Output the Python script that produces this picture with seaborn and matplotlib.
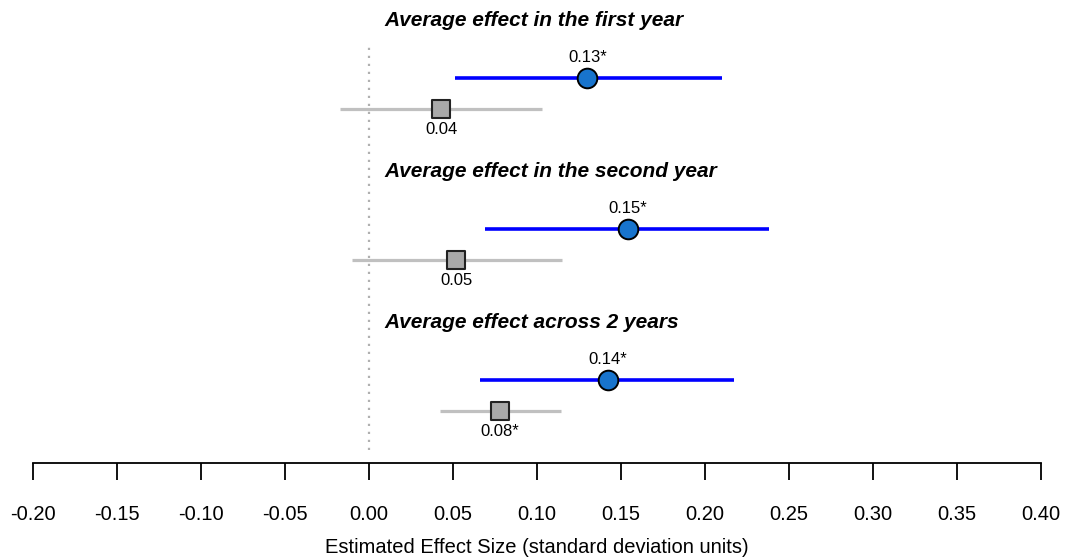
import matplotlib
matplotlib.use("Agg")
import matplotlib.pyplot as plt
import seaborn as sns
import pandas as pd
import numpy as np

# %%
# data
groups = ["Average effect in the first year",
          "Average effect in the second year",
          "Average effect across 2 years"]
blue_est = [0.130, 0.154, 0.142]
blue_lo = [0.051, 0.069, 0.066]
blue_hi = [0.210, 0.238, 0.217]
blue_lab = ["0.13*", "0.15*", "0.14*"]
gray_est = [0.043, 0.052, 0.078]
gray_lo = [-0.017, -0.010, 0.042]
gray_hi = [0.103, 0.115, 0.114]
gray_lab = ["0.04", "0.05", "0.08*"]
xticks = [-0.20, -0.15, -0.10, -0.05, 0.00, 0.05, 0.10, 0.15, 0.20, 0.25, 0.30, 0.35, 0.40]

# %%
sns.set_theme(style="white")
plt.rcParams['font.family'] = ['Liberation Sans', 'DejaVu Sans']
plt.rcParams['text.color'] = 'black'
plt.rcParams['axes.labelcolor'] = 'black'
plt.rcParams['xtick.color'] = 'black'

n = len(groups)
pos = np.arange(n)
blue_df = pd.DataFrame({"est": blue_est, "y": pos + 0.40})
gray_df = pd.DataFrame({"est": gray_est, "y": pos + 0.60})

fig = plt.figure(figsize=(10.65, 5.58), dpi=100)
ax = fig.add_axes([0.031, 0.1703, 0.9465, 0.8297])

# zero reference line
ax.axvline(0, ymin=0.028, ymax=0.90, color="#b0b0b0", linestyle=(0, (1.0, 2.6)), lw=1.6, zorder=1)

# confidence intervals
ax.hlines(blue_df["y"], blue_lo, blue_hi, color="#0000ff", lw=2.6, zorder=2)
ax.hlines(gray_df["y"], gray_lo, gray_hi, color="#c0c0c0", lw=2.3, zorder=2)

# point estimates
sns.scatterplot(data=blue_df, x="est", y="y", marker="o", s=200, color="#1874cd",
                edgecolor="black", linewidth=1.4, zorder=3, ax=ax)
sns.scatterplot(data=gray_df, x="est", y="y", marker="s", s=155, color="#a9a9a9",
                edgecolor="#222222", linewidth=1.5, zorder=3, ax=ax)

for i in range(n):
    ax.text(0.009, pos[i] + 0.02, groups[i], fontsize=15, fontweight="bold", fontstyle="italic",
            ha="left", va="center", color="black")
    ax.annotate(blue_lab[i], (blue_est[i], pos[i] + 0.40), xytext=(0, 15), textcoords="offset points",
                ha="center", va="center", fontsize=12, color="black")
    ax.annotate(gray_lab[i], (gray_est[i], pos[i] + 0.60), xytext=(0, -15), textcoords="offset points",
                ha="center", va="center", fontsize=12, color="black")

ax.set_xlim(-0.20, 0.40)
ax.set_ylim(2.947, -0.119)
ax.set_xticks(xticks)
ax.set_xticklabels([f"{t:.2f}" for t in xticks], fontsize=14.5)
ax.set_yticks([])
ax.set_ylabel("")
ax.set_xlabel("Estimated Effect Size (standard deviation units)", fontsize=14.5, labelpad=10)
for s in ["top", "left", "right"]:
    ax.spines[s].set_visible(False)
ax.spines["bottom"].set_color("black")
ax.spines["bottom"].set_linewidth(1.3)
ax.tick_params(axis="x", bottom=True, direction="out", length=12, width=1.3, color="black", pad=18)

fig.savefig("out.png", dpi=100)
